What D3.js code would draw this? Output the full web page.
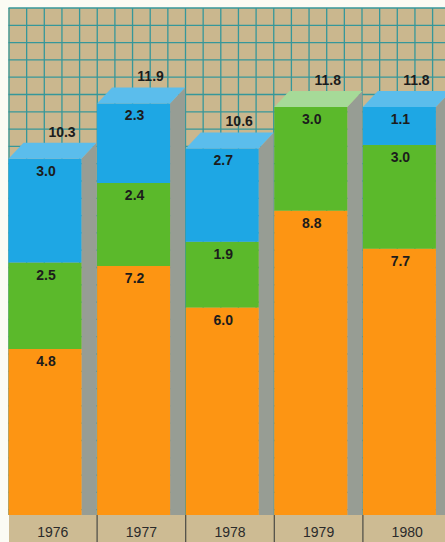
<!DOCTYPE html>
<html>
<head>
<meta charset="utf-8">
<script src="https://cdn.jsdelivr.net/npm/d3@7/dist/d3.min.js"></script>
<style>
  html, body { margin: 0; padding: 0; background: #fbfbf4; }
  svg { display: block; }
</style>
</head>
<body>
<svg id="chart" width="445" height="542"></svg>
<script>
// Yearly totals split into three stacked components
const years  = ["1976", "1977", "1978", "1979", "1980"];
const orange = [4.8, 7.2, 6.0, 8.8, 7.7];
const green  = [2.5, 2.4, 1.9, 3.0, 3.0];
const blue   = [3.0, 2.3, 2.7, 0.0, 1.1];
const totals = [10.3, 11.9, 10.6, 11.8, 11.8];

const W = 445, H = 542;
const padLeft = 8.5, padTop = 8, base = 515;
const step = 88.6, depth = 15, rise = 16;

const palette = {
  orange: { front: "#fd9513", top: "#ffbe6a" },
  green:  { front: "#5bb92b", top: "#a6da98" },
  blue:   { front: "#1ea7e4", top: "#5bbdec" }
};
const sideColor = "#979d94";
const paper = "#cab78e";
const gridColor = "#36979a";

const rows = years.map((yr, i) => ({ year: yr, orange: orange[i], green: green[i], blue: blue[i], total: totals[i] }));
const keys = ["orange", "green", "blue"];
const series = d3.stack().keys(keys)(rows);

const svg = d3.select("#chart");

const x = d3.scaleBand().domain(years).range([padLeft, padLeft + step * years.length]).paddingInner(0).paddingOuter(0);
const frontW = x.bandwidth() - depth - 0.6;
const y = d3.scaleLinear().domain([0, 12]).range([base, 100]);

// paper background with grid
svg.append("rect").attr("x", padLeft).attr("y", padTop).attr("width", W - padLeft).attr("height", base - padTop).attr("fill", paper);
const grid = svg.append("g").attr("stroke", gridColor).attr("stroke-width", 1.3);
grid.selectAll("line.h").data(d3.range(padTop, base, 17.3)).join("line")
  .attr("class", "h").attr("x1", padLeft).attr("x2", W).attr("y1", d => d).attr("y2", d => d);
grid.selectAll("line.v").data(d3.range(padLeft + 0.5, W, 17.65)).join("line")
  .attr("class", "v").attr("y1", padTop).attr("y2", base).attr("x1", d => d).attr("x2", d => d);

// bars
const bars = svg.append("g");
rows.forEach((r, i) => {
  const x0 = x(r.year), x1 = x0 + frontW;
  const yTop = y(r.total);
  const g = bars.append("g");
  // side face
  g.append("polygon")
    .attr("points", [[x1, yTop], [x1 + depth, yTop - rise], [x1 + depth, base], [x1, base]].map(p => p.join(",")).join(" "))
    .attr("fill", sideColor);
  // front segments
  series.forEach(s => {
    const d = s[i];
    if (d[1] - d[0] <= 0) return;
    g.append("rect")
      .attr("x", x0).attr("y", y(d[1]))
      .attr("width", frontW).attr("height", y(d[0]) - y(d[1]))
      .attr("fill", palette[s.key].front);
  });
  // top face takes the lighter tint of the uppermost segment
  const topKey = keys.filter(k => r[k] > 0).pop();
  g.append("polygon")
    .attr("points", [[x0, yTop], [x0 + depth, yTop - rise], [x1 + depth, yTop - rise], [x1, yTop]].map(p => p.join(",")).join(" "))
    .attr("fill", palette[topKey].top);
  // segment values
  series.forEach(s => {
    const d = s[i];
    if (d[1] - d[0] <= 0) return;
    g.append("text")
      .attr("x", x0 + frontW / 2 + 1).attr("y", y(d[1]) + 17)
      .attr("text-anchor", "middle")
      .attr("font-family", "'Liberation Sans', Arial, sans-serif")
      .attr("font-weight", "bold").attr("font-size", 14)
      .attr("fill", "#1c1c1c")
      .text(d3.format(".1f")(d.data[s.key]));
  });
  // total above the bar
  g.append("text")
    .attr("x", x0 + frontW / 2 + 17).attr("y", yTop - 22)
    .attr("text-anchor", "middle")
    .attr("font-family", "'Liberation Sans', Arial, sans-serif")
    .attr("font-weight", "bold").attr("font-size", 14)
    .attr("fill", "#1c1c1c")
    .text(d3.format(".1f")(r.total));
});

// year strip along the bottom
const strip = svg.append("g");
strip.append("rect").attr("x", padLeft + 0.5).attr("y", base).attr("width", W - padLeft).attr("height", H - base).attr("fill", "#cdbb93");
const xAxis = d3.axisBottom(x).tickSize(0).tickPadding(0);
const ax = strip.append("g").attr("transform", `translate(0,${base})`).call(xAxis);
ax.select(".domain").remove();
ax.selectAll("text")
  .attr("y", 22)
  .attr("dy", 0)
  .attr("font-family", "'Liberation Sans', Arial, sans-serif")
  .attr("font-size", 14)
  .attr("fill", "#2a2a2a");
strip.selectAll("line.div").data(years.slice(1)).join("line")
  .attr("class", "div")
  .attr("x1", d => x(d)).attr("x2", d => x(d))
  .attr("y1", base).attr("y2", H)
  .attr("stroke", "#4a4a44").attr("stroke-width", 1.2);
</script>
</body>
</html>
